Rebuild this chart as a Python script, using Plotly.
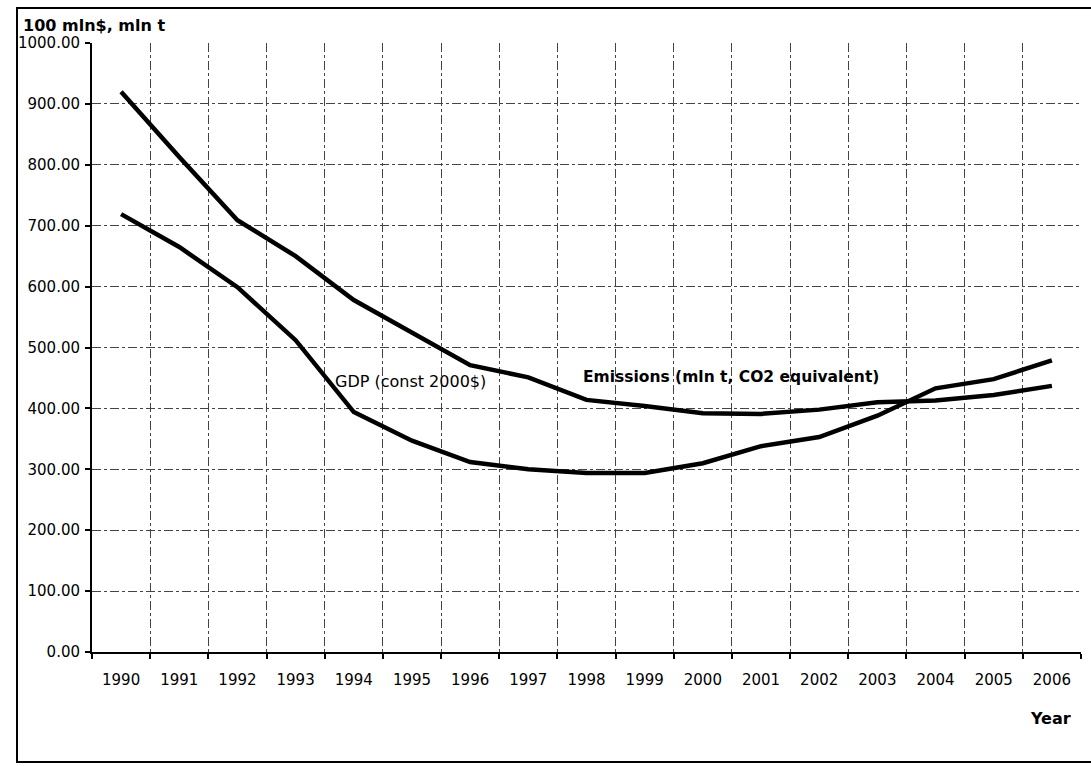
import plotly.graph_objects as go

years = [str(y) for y in range(1990, 2007)]
emissions = [920, 813, 709, 650, 578, 524, 471, 451, 414, 404, 392, 391, 398, 410, 413, 422, 437]
gdp = [719, 665, 599, 512, 394, 347, 312, 300, 294, 294, 310, 338, 353, 388, 433, 448, 479]
y_ticks = list(range(0, 1001, 100))

FONT = "DejaVu Sans, Liberation Sans, Arial, sans-serif"

fig = go.Figure()
fig.add_trace(go.Scatter(x=years, y=emissions, mode="lines",
                         line=dict(color="black", width=4.5), name="Emissions"))
fig.add_trace(go.Scatter(x=years, y=gdp, mode="lines",
                         line=dict(color="black", width=4.5), name="GDP"))

W, H = 1091, 766
L, R, T, B = 92, 1081, 43, 652
pw, ph = R - L, B - T

def px(x):
    return (x - L) / pw

def py(y):
    return (B - y) / ph

fig.update_layout(
    width=W, height=H,
    margin=dict(l=L, r=W - R, t=T, b=H - B, pad=0),
    paper_bgcolor="white", plot_bgcolor="white",
    showlegend=False,
    font=dict(family=FONT, color="black", size=15),
)
fig.update_xaxes(
    type="category", range=[-0.5, 16.5], tickson="boundaries",
    showgrid=True, gridcolor="#444", griddash="dashdot", gridwidth=1,
    showline=True, linecolor="black", linewidth=2,
    ticks="outside", ticklen=5, tickcolor="black", tickwidth=2,
    tickfont=dict(size=15, family=FONT), ticklabelstandoff=13,
)
fig.update_yaxes(
    range=[0, 1000], tickvals=y_ticks, tickformat=".2f",
    showgrid=True, gridcolor="#444", griddash="dashdot", gridwidth=1,
    showline=True, linecolor="black", linewidth=2,
    ticks="outside", ticklen=5, tickcolor="black", tickwidth=2,
    tickfont=dict(size=15, family=FONT), zeroline=False,
    ticklabelstandoff=2,
)

fig.add_shape(type="rect", xref="paper", yref="paper",
              x0=px(17), x1=px(1100), y0=py(762), y1=py(8),
              line=dict(color="black", width=2), layer="below")

fig.add_annotation(text="<b>100 mln$, mln t</b>", xref="paper", yref="paper",
                   x=px(21), y=py(14), xanchor="left", yanchor="top",
                   showarrow=False, font=dict(size=16, family=FONT))
fig.add_annotation(text="<b>Year</b>", xref="paper", yref="paper",
                   x=px(1073), y=py(718), xanchor="right", yanchor="middle",
                   showarrow=False, font=dict(size=16, family=FONT))
fig.add_annotation(text="GDP (const 2000$)", x=3.65, y=445, xref="x", yref="y",
                   xanchor="left", yanchor="middle", showarrow=False,
                   font=dict(size=16, family=FONT))
fig.add_annotation(text="<b>Emissions (mln t, CO2 equivalent)</b>", x=7.9, y=452,
                   xref="x", yref="y", xanchor="left", yanchor="middle",
                   showarrow=False, font=dict(size=15.5, family=FONT))

fig.write_html("out.html", config={"displayModeBar": False},
               post_script="document.body.style.margin='0';")
